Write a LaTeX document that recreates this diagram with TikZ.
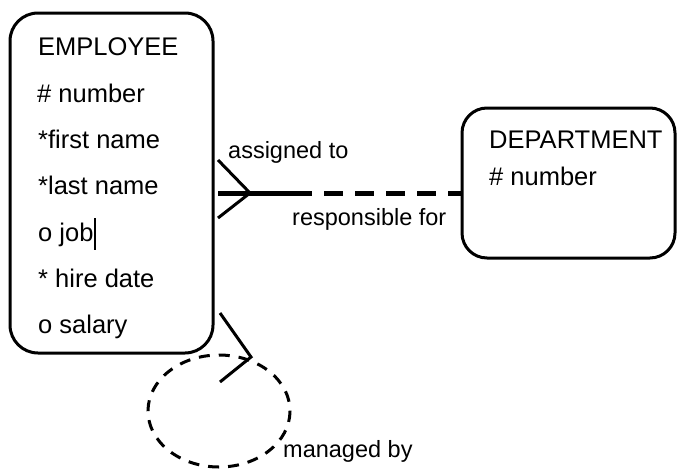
\documentclass[tikz,border=0pt]{standalone}
\usepackage{fontspec}
\setmainfont{Liberation Sans}
\begin{document}
\begin{tikzpicture}[x=1pt,y=-1pt,
  box/.style={draw, line width=3pt, rounded corners=28pt, inner sep=0pt},
  attr/.style={anchor=base west, inner sep=0pt, font=\fontsize{25.5}{30}\selectfont},
  lbl/.style={anchor=base west, inner sep=0pt, font=\fontsize{23.5}{28}\selectfont},
  foot/.style={line width=3pt},
  solidrel/.style={line width=5pt},
  dashrel/.style={line width=5pt, dash pattern=on 19pt off 12pt, dash phase=19pt},
  dashloop/.style={line width=3pt, dash pattern=on 11pt off 9pt}]
\useasboundingbox (0,0) rectangle (677,471);
% entities
\node[box, minimum width=203pt, minimum height=340pt] (emp) at (111.5,183) {};
\node[box, rounded corners=25pt, minimum width=213pt, minimum height=150pt] (dept) at (568.5,183) {};
% employee attributes
\node[attr] (e0) at (38,55) {EMPLOYEE};
\node[attr] (e1) at (37,102) {\# number};
\node[attr] (e2) at (38,148) {*first name};
\node[attr] (e3) at (38,194) {*last name};
\node[attr] (e4) at (38,241) {o job};
\node[attr] (e5) at (38,287) {* hire date};
\node[attr] (e6) at (38,333) {o salary};
\draw[line width=1.2pt] (95,218) -- (95,250);
% department attributes
\node[attr] (d0) at (489,148) {DEPARTMENT};
\node[attr] (d1) at (489,185) {\# number};
% relationship employee - department
\coordinate (r1) at (218,193);
\coordinate (rm) at (312,193);
\coordinate (cf1) at (218,160);
\coordinate (cf2) at (250,193);
\coordinate (cf3) at (218,218);
\draw[solidrel] (r1) -- (rm);
\draw[dashrel] (rm) -- (dept.west |- rm);
\draw[foot] (cf1) -- (cf2) -- (cf3);
\node[lbl] (l1) at (228,158) {assigned to};
\node[lbl] (l2) at (292,225) {responsible for};
% recursive relationship
\coordinate (m1) at (220,313);
\coordinate (m2) at (251,357);
\coordinate (m3) at (220,382);
\draw[foot] (m1) -- (m2) -- (m3);
\draw[dashloop] (219,411) ellipse [x radius=71, y radius=56];
\node[lbl] (l3) at (283,457) {managed by};
\end{tikzpicture}
\end{document}
